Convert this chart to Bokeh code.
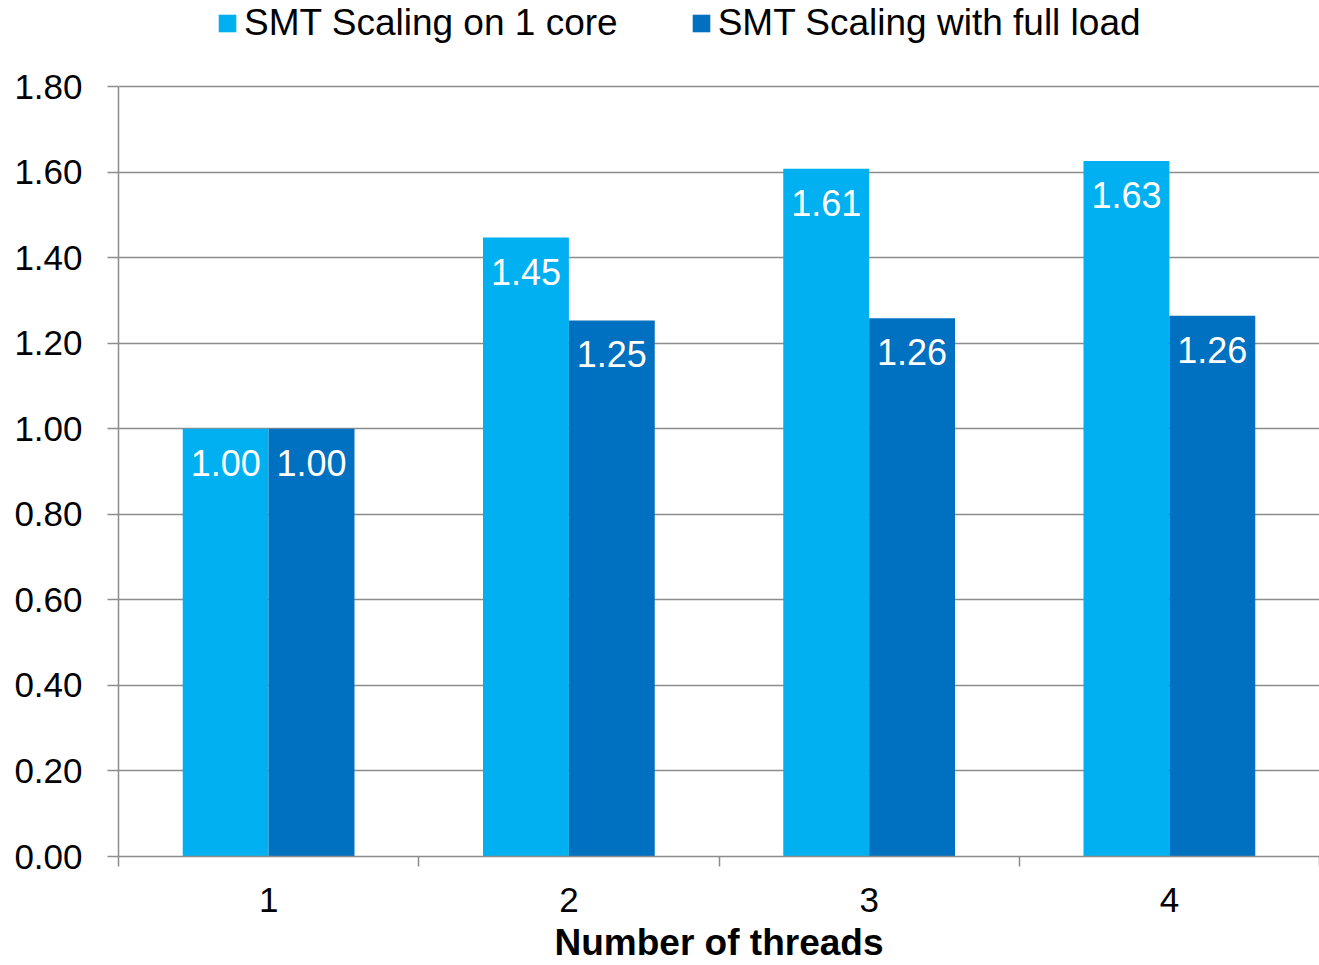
from bokeh.plotting import figure
from bokeh.models import ColumnDataSource, Range1d, FixedTicker, Legend, LegendItem, CustomJSTickFormatter
from bokeh.core.properties import value
from bokeh.embed import file_html
from bokeh.resources import INLINE

threads = [1, 2, 3, 4]
tick_labels = ["1", "2", "3", "4"]
one_core = [1.00, 1.447, 1.608, 1.626]
full_load = [1.00, 1.253, 1.258, 1.264]
series_names = ["SMT Scaling on 1 core", "SMT Scaling with full load"]
colors = ["#00B0F0", "#0070C0"]
y_ticks = [0.0, 0.2, 0.4, 0.6, 0.8, 1.0, 1.2, 1.4, 1.6, 1.8]

FONT = "Liberation Sans"
dodge = 0.143
bw = 0.286

src1 = ColumnDataSource(dict(x=[t - dodge for t in threads], top=one_core,
                             lab=["%.2f" % v for v in one_core]))
src2 = ColumnDataSource(dict(x=[t + dodge for t in threads], top=full_load,
                             lab=["%.2f" % v for v in full_load]))

# frame spans from top of page; axis max 1.80 sits 86px below top
y_top = 1.8 * 856.0 / 770.0

p = figure(width=1319, height=965, output_backend="svg", toolbar_location=None,
           x_range=Range1d(0.5, 4.5), y_range=Range1d(0, y_top),
           min_border_left=118, min_border_right=0, min_border_top=0, min_border_bottom=109)
p.outline_line_color = None
p.background_fill_color = "white"
p.border_fill_color = "white"

r1 = p.vbar(x="x", top="top", width=bw, source=src1, fill_color=colors[0], line_color=None)
r2 = p.vbar(x="x", top="top", width=bw, source=src2, fill_color=colors[1], line_color=None)

for s in (src1, src2):
    p.text(x="x", y="top", text="lab", source=s, text_color="white",
           text_font=value(FONT), text_font_size="36px", text_align="center",
           text_baseline="middle", y_offset=34)

# y axis
p.yaxis.ticker = FixedTicker(ticks=y_ticks)
p.yaxis.bounds = (0, 1.8)
p.yaxis.formatter = CustomJSTickFormatter(code="return tick.toFixed(2);")
p.yaxis.major_label_text_font = FONT
p.yaxis.major_label_text_font_size = "35px"
p.yaxis.major_label_text_color = "black"
p.yaxis.axis_line_color = "#8c8c8c"
p.yaxis.axis_line_width = 1.5
p.yaxis.major_tick_line_color = "#8c8c8c"
p.yaxis.major_tick_line_width = 1.5
p.yaxis.major_tick_out = 11
p.yaxis.major_tick_in = 0
p.yaxis.minor_tick_line_color = None
p.yaxis.major_label_standoff = 25

# x axis
p.xaxis.ticker = FixedTicker(ticks=threads, minor_ticks=[0.5, 1.5, 2.5, 3.5, 4.5])
p.xaxis.major_label_overrides = {t: l for t, l in zip(threads, tick_labels)}
p.xaxis.major_label_text_font = FONT
p.xaxis.major_label_text_font_size = "35px"
p.xaxis.major_label_text_color = "black"
p.xaxis.major_tick_line_color = None
p.xaxis.major_tick_out = 0
p.xaxis.major_tick_in = 0
p.xaxis.minor_tick_line_color = "#8c8c8c"
p.xaxis.minor_tick_line_width = 1.5
p.xaxis.minor_tick_out = 10
p.xaxis.minor_tick_in = 0
p.xaxis.axis_line_color = "#8c8c8c"
p.xaxis.axis_line_width = 1.5
p.xaxis.major_label_standoff = 21
p.xaxis.axis_label = "Number of threads"
p.xaxis.axis_label_text_font = FONT
p.xaxis.axis_label_text_font_size = "37px"
p.xaxis.axis_label_text_font_style = "bold"
p.xaxis.axis_label_text_color = "black"
p.xaxis.axis_label_standoff = 7

p.xgrid.grid_line_color = None
p.ygrid.ticker = FixedTicker(ticks=y_ticks)
p.ygrid.grid_line_color = "#8c8c8c"
p.ygrid.grid_line_width = 1.5

legend = Legend(items=[LegendItem(label=series_names[0], renderers=[r1]),
                       LegendItem(label=series_names[1], renderers=[r2])],
                orientation="horizontal", location=(98, 812),
                label_text_font=FONT, label_text_font_size="37px", label_text_color="black",
                glyph_width=22, glyph_height=22, label_standoff=6, spacing=72,
                border_line_color=None, background_fill_alpha=0, padding=0, margin=0)
p.add_layout(legend, "center")

open("out.html", "w").write(file_html(p, INLINE))
